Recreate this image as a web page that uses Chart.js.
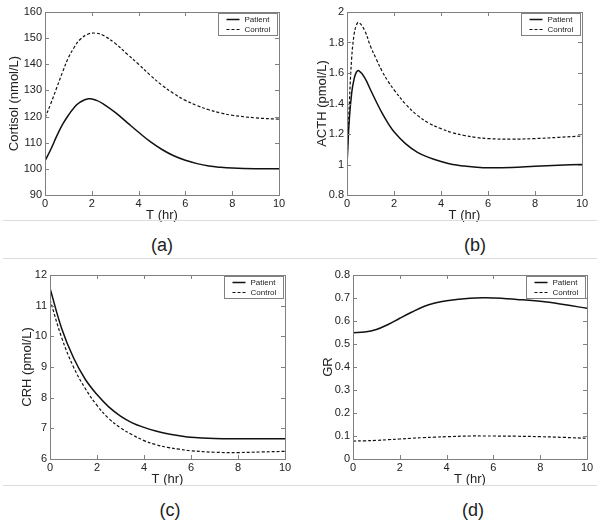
<!DOCTYPE html>
<html>
<head>
<meta charset="utf-8">
<script src="https://cdn.jsdelivr.net/npm/chart.js@4"></script>
<style>
  html, body { margin: 0; padding: 0; background: #fff; }
  #page { position: relative; width: 600px; height: 523px; overflow: hidden; background: #fff; font-family: "Liberation Sans", Arial, sans-serif; }
  .panel { position: absolute; }
  .sep { position: absolute; left: 3px; width: 594px; height: 1px; background: #dcdcdc; }
  .cap { position: absolute; font-size: 18px; color: #222; transform: translate(-50%, -50%); white-space: nowrap; }
</style>
</head>
<body>
<div id="page">
  <div class="panel" style="left:0;top:0"><canvas id="chartA" width="300" height="223"></canvas></div>
  <div class="panel" style="left:300px;top:0"><canvas id="chartB" width="300" height="223"></canvas></div>
  <div class="panel" style="left:0;top:262px"><canvas id="chartC" width="300" height="225"></canvas></div>
  <div class="panel" style="left:300px;top:262px"><canvas id="chartD" width="300" height="225"></canvas></div>
  <div class="sep" style="top:220px"></div>
  <div class="sep" style="top:258px"></div>
  <div class="sep" style="top:485px"></div>
  <div class="cap" style="left:162px;top:245px">(a)</div>
  <div class="cap" style="left:475px;top:245px">(b)</div>
  <div class="cap" style="left:170px;top:510px">(c)</div>
  <div class="cap" style="left:473px;top:510px">(d)</div>
</div>
<script>
// values (T in hours)
const seriesNames = ['Patient', 'Control'];

const cortisolT = [0, 0.25, 0.5, 0.75, 1, 1.25, 1.5, 1.85, 2.2, 2.5, 3, 3.5, 4, 4.5, 5, 5.5, 6, 6.5, 7, 7.5, 8, 9, 10];
const cortisolPatient = [103, 107.5, 112.5, 117, 120.5, 123.5, 125.5, 126.8, 126.2, 124.8, 121.6, 117.8, 114, 110.4, 107.4, 105, 103.3, 102, 101.1, 100.6, 100.3, 100.05, 100];
const cortisolControl = [119.5, 125, 131, 137, 142.5, 146.5, 149.5, 151.6, 151.9, 151, 148, 144, 140, 135.8, 132, 128.8, 126.2, 124.2, 122.6, 121.4, 120.5, 119.5, 119];

const acthT = [0, 0.1, 0.2, 0.3, 0.4, 0.5, 0.75, 1, 1.25, 1.5, 1.75, 2, 2.5, 3, 3.5, 4, 4.5, 5, 5.5, 6, 7, 8, 9, 10];
const acthPatient = [1.0, 1.3, 1.47, 1.56, 1.605, 1.615, 1.57, 1.49, 1.41, 1.335, 1.27, 1.215, 1.135, 1.08, 1.045, 1.02, 1.0, 0.99, 0.982, 0.978, 0.98, 0.988, 0.995, 1.0];
const acthControl = [1.0, 1.4, 1.7, 1.85, 1.915, 1.932, 1.88, 1.775, 1.69, 1.61, 1.545, 1.49, 1.395, 1.322, 1.27, 1.235, 1.208, 1.19, 1.177, 1.17, 1.166, 1.17, 1.178, 1.187];

const crhT = [0, 0.5, 1, 1.5, 2, 2.5, 3, 3.5, 4, 4.5, 5, 5.5, 6, 7, 8, 9, 10];
const crhPatient = [11.57, 10.25, 9.3, 8.6, 8.1, 7.7, 7.4, 7.18, 7.03, 6.91, 6.82, 6.76, 6.71, 6.67, 6.66, 6.66, 6.66];
const crhControl = [11.2, 9.95, 9.0, 8.3, 7.75, 7.32, 7.02, 6.79, 6.6, 6.47, 6.38, 6.32, 6.27, 6.22, 6.21, 6.23, 6.25];

const grT = [0, 0.5, 1, 1.5, 2, 2.5, 3, 3.5, 4, 5, 5.7, 6, 7, 8, 9, 10];
const grPatient = [0.549, 0.552, 0.563, 0.585, 0.612, 0.638, 0.662, 0.678, 0.688, 0.699, 0.701, 0.7, 0.694, 0.686, 0.672, 0.655];
const grControl = [0.078, 0.079, 0.081, 0.084, 0.087, 0.09, 0.093, 0.095, 0.097, 0.1, 0.1, 0.1, 0.099, 0.097, 0.094, 0.09];

const xTicks = [0, 2, 4, 6, 8, 10];

const axisColor = '#808080';
const textColor = '#222';

// MATLAB-like box with inward ticks on all four sides
const boxPlugin = {
    id: 'boxTicks',
    afterDatasetsDraw(chart) {
        const ctx = chart.ctx;
        const a = chart.chartArea;
        const len = 4;
        ctx.save();
        ctx.strokeStyle = axisColor;
        ctx.lineWidth = 1;
        ctx.beginPath();
        chart.scales.x.ticks.forEach(t => {
            const px = Math.round(chart.scales.x.getPixelForValue(t.value)) + 0.5;
            ctx.moveTo(px, a.bottom); ctx.lineTo(px, a.bottom - len);
            ctx.moveTo(px, a.top); ctx.lineTo(px, a.top + len);
        });
        chart.scales.y.ticks.forEach(t => {
            const py = Math.round(chart.scales.y.getPixelForValue(t.value)) + 0.5;
            ctx.moveTo(a.left, py); ctx.lineTo(a.left + len, py);
            ctx.moveTo(a.right, py); ctx.lineTo(a.right - len, py);
        });
        ctx.stroke();
        ctx.strokeRect(Math.round(a.left) + 0.5, Math.round(a.top) + 0.5, Math.round(a.right - a.left), Math.round(a.bottom - a.top));
        ctx.restore();
    }
};

// small boxed legend in the top right corner of the plot area
const boxLegend = {
    id: 'boxLegend',
    afterDraw(chart) {
        const ctx = chart.ctx;
        const a = chart.chartArea;
        const w = 59, h = 22;
        const left = Math.round(a.right - 2 - w) + 0.5;
        const top = Math.round(a.top + 1) + 0.5;
        ctx.save();
        ctx.fillStyle = '#fff';
        ctx.fillRect(left, top, w, h);
        ctx.strokeStyle = axisColor;
        ctx.lineWidth = 1;
        ctx.strokeRect(left, top, w, h);
        chart.data.datasets.forEach((ds, i) => {
            const y = top + 6 + i * 10;
            ctx.strokeStyle = ds.borderColor;
            ctx.lineWidth = ds.borderWidth;
            ctx.setLineDash(ds.borderDash || []);
            ctx.beginPath();
            ctx.moveTo(left + 8, y);
            ctx.lineTo(left + 21, y);
            ctx.stroke();
            ctx.setLineDash([]);
            ctx.fillStyle = textColor;
            ctx.font = '8px "Liberation Sans", Arial, sans-serif';
            ctx.textBaseline = 'middle';
            ctx.fillText(ds.label, left + 26, y + 0.5);
        });
        ctx.restore();
    }
};

function toPoints(xs, ys) {
    return xs.map((x, i) => ({ x: x, y: ys[i] }));
}

function makePanel(id, opts) {
    const fontTick = { family: '"Liberation Sans", Arial, sans-serif', size: 11 };
    const fontTitle = { family: '"Liberation Sans", Arial, sans-serif', size: 13 };
    new Chart(document.getElementById(id), {
        type: 'line',
        data: {
            datasets: [
                {
                    label: seriesNames[0],
                    data: toPoints(opts.t, opts.patient),
                    borderColor: '#111',
                    borderWidth: 1.5,
                    pointRadius: 0,
                    tension: 0.4,
                },
                {
                    label: seriesNames[1],
                    data: toPoints(opts.t, opts.control),
                    borderColor: '#111',
                    borderWidth: 1.2,
                    borderDash: [3, 2],
                    pointRadius: 0,
                    tension: 0.4,
                },
            ],
        },
        options: {
            responsive: false,
            animation: false,
            events: [],
            layout: { padding: { left: 0, top: opts.top, right: opts.right, bottom: 0 } },
            plugins: { legend: { display: false }, tooltip: { enabled: false } },
            scales: {
                x: {
                    type: 'linear',
                    min: 0,
                    max: 10,
                    afterBuildTicks: s => { s.ticks = xTicks.map(v => ({ value: v })); },
                    grid: { display: false, drawTicks: false },
                    border: { display: false },
                    ticks: { font: fontTick, color: textColor, padding: 2, maxRotation: 0 },
                    title: { display: true, text: 'T (hr)', font: fontTitle, color: textColor, padding: 0 },
                    afterFit: s => { s.height = opts.xHeight; },
                },
                y: {
                    min: opts.yMin,
                    max: opts.yMax,
                    afterBuildTicks: s => { s.ticks = opts.yTicks.map(v => ({ value: v })); },
                    grid: { display: false, drawTicks: false },
                    border: { display: false },
                    ticks: { font: fontTick, color: textColor, padding: 3, callback: v => String(parseFloat(v.toFixed(2))) },
                    title: { display: true, text: opts.yTitle, font: fontTitle, color: textColor, padding: { top: opts.yTitlePad, bottom: 0 } },
                    afterFit: s => { s.width = opts.left; },
                },
            },
        },
        plugins: [boxPlugin, boxLegend],
    });
}

makePanel('chartA', {
    t: cortisolT, patient: cortisolPatient, control: cortisolControl,
    yMin: 90, yMax: 160, yTicks: [90, 100, 110, 120, 130, 140, 150, 160],
    yTitle: 'Cortisol (nmol/L)',
    left: 45, top: 12, right: 21, xHeight: 28, yTitlePad: 7,
});

makePanel('chartB', {
    t: acthT, patient: acthPatient, control: acthControl,
    yMin: 0.8, yMax: 2, yTicks: [0.8, 1, 1.2, 1.4, 1.6, 1.8, 2],
    yTitle: 'ACTH (pmol/L)',
    left: 47, top: 12, right: 18, xHeight: 28, yTitlePad: 15,
});

makePanel('chartC', {
    t: crhT, patient: crhPatient, control: crhControl,
    yMin: 6, yMax: 12, yTicks: [6, 7, 8, 9, 10, 11, 12],
    yTitle: 'CRH (pmol/L)',
    left: 50, top: 13, right: 15, xHeight: 28, yTitlePad: 20,
});

makePanel('chartD', {
    t: grT, patient: grPatient, control: grControl,
    yMin: 0, yMax: 0.8, yTicks: [0, 0.1, 0.2, 0.3, 0.4, 0.5, 0.6, 0.7, 0.8],
    yTitle: 'GR',
    left: 53, top: 13, right: 13, xHeight: 28, yTitlePad: 21,
});
</script>
</body>
</html>
